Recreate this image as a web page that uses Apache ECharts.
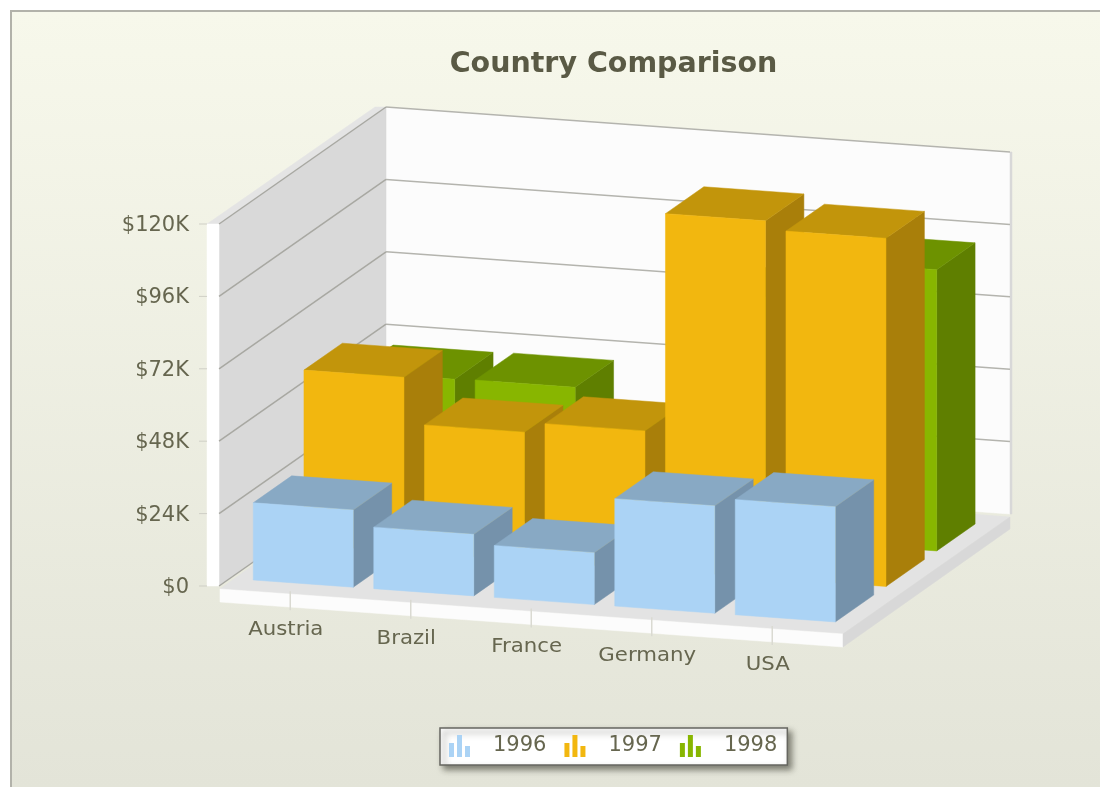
<!DOCTYPE html>
<html>
<head>
<meta charset="utf-8">
<style>html,body{margin:0;padding:0;background:#fff}#c{width:1100px;height:787px}</style>
<script src="https://cdn.jsdelivr.net/npm/echarts@6/dist/echarts.min.js"></script>
</head>
<body>
<div id="c"></div>
<script>
const categories = ['Austria', 'Brazil', 'France', 'Germany', 'USA'];
const years = ['1996', '1997', '1998'];
const values1996 = [25600, 20400, 17200, 35600, 38200];
const values1997 = [57800, 42500, 45800, 118300, 115400];
const values1998 = [45400, 45600, 30000, 80000, 93200];
const yTicks = [0, 24000, 48000, 72000, 96000, 120000];

const faces = [
  { front: '#ABD3F5', top: '#88A9C4', side: '#7592AB' },
  { front: '#F2B70F', top: '#C2950B', side: '#A97F0A' },
  { front: '#88B600', top: '#6D9200', side: '#5F7F00' }
];
const TEXT = '#66664f';
const FONT = '"DejaVu Sans", Verdana, sans-serif';

// oblique projection of (category position, value, depth 0..1) on the cartesian grid
const SLOPE = 0.0721, ORIGIN_X = 219, DEPTH_X = 167, DEPTH_Y = 117;
const LEFT = -0.591, RIGHT = 4.587;
const ROW_START = 0.0657, ROW_STEP = 0.3036, BAR_DEPTH = 0.23, BAR_HALF = 0.415, BAR_SHIFT = 0.017;

function projector(api) {
  const x0 = api.coord([0, 0])[0];
  const step = api.coord([1, 0])[0] - x0;
  return function (c, v, d) {
    const X = x0 + c * step;
    const y = api.coord([0, v])[1];
    return [X + d * DEPTH_X, y + (X - ORIGIN_X) * SLOPE - d * DEPTH_Y];
  };
}
function poly(points, fill) {
  return { type: 'polygon', shape: { points: points }, style: { fill: fill, stroke: fill, lineWidth: 0.5 } };
}
function seg(a, b, stroke, w) {
  return { type: 'line', shape: { x1: a[0], y1: a[1], x2: b[0], y2: b[1] }, style: { stroke: stroke, lineWidth: w } };
}
function shift(p, dx, dy) { return [p[0] + dx, p[1] + dy]; }

function renderFrame(params, api) {
  const p = projector(api);
  const top = yTicks[yTicks.length - 1];
  const ch = [];
  const fl = p(LEFT, 0, 0), fr = p(RIGHT, 0, 0), bl = p(LEFT, 0, 1), br = p(RIGHT, 0, 1);
  const tfl = p(LEFT, top, 0), tbl = p(LEFT, top, 1), tbr = p(RIGHT, top, 1);
  // back wall
  ch.push(poly([bl, br, tbr, tbl], '#FCFCFC'));
  ch.push(poly([br, shift(br, 2, 0), shift(tbr, 2, 0), tbr], '#D8D8D8'));
  // left wall and its edges
  ch.push(poly([fl, bl, tbl, tfl], '#D9D9D9'));
  ch.push(poly([tfl, tbl, shift(tbl, -11, 0), shift(tfl, -12, 0)], '#E4E4E4'));
  ch.push(poly([tfl, fl, shift(fl, -12, 0), shift(tfl, -12, 0)], '#FFFFFF'));
  // floor slab
  ch.push(poly([shift(fl, 1, 3), shift(fr, 0, 3), shift(br, 0, 3), bl], '#E3E3E3'));
  ch.push(poly([shift(fl, 1, 3), shift(fr, 0, 3), shift(fr, 0, 16), shift(fl, 1, 16)], '#FCFCFC'));
  ch.push(poly([shift(fr, 0, 3), shift(br, 0, 3), shift(br, 0, 15), shift(fr, 0, 16)], '#D8D8D8'));
  // gridlines and value ticks
  yTicks.forEach(function (t) {
    const a = p(LEFT, t, 0), b = p(LEFT, t, 1), c = p(RIGHT, t, 1);
    if (t > 0) ch.push(seg(b, c, '#B4B4AE', 1.5));
    ch.push(seg(a, b, '#A8A8A2', 1.5));
    ch.push(seg(shift(a, -20, 0), shift(a, -12, 0), '#CFCFC6', 1));
  });
  return { type: 'group', children: ch };
}

function renderBar(params, api) {
  const p = projector(api);
  const i = api.value(0), v = api.value(1);
  const row = params.seriesIndex;
  const f = faces[row];
  const c = i + BAR_SHIFT;
  const d0 = ROW_START + row * ROW_STEP, d1 = d0 + BAR_DEPTH;
  const a = c - BAR_HALF, b = c + BAR_HALF;
  return {
    type: 'group',
    children: [
      poly([p(b, 0, d0), p(b, 0, d1), p(b, v, d1), p(b, v, d0)], f.side),
      poly([p(a, v, d0), p(b, v, d0), p(b, v, d1), p(a, v, d1)], f.top),
      poly([p(a, 0, d0), p(b, 0, d0), p(b, v, d0), p(a, v, d0)], f.front)
    ]
  };
}

function renderCategory(params, api) {
  const p = projector(api);
  const i = api.value(0);
  const t = p(i, 0, 0);
  return {
    type: 'group',
    children: [
      seg(t, shift(t, 0, 19), '#DADAD2', 1.5),
      {
        type: 'text', x: t[0] - 4.5, y: t[1] + 39, scaleX: 1.12,
        style: { text: categories[i], font: '19px ' + FONT, fill: TEXT, align: 'center', verticalAlign: 'middle' }
      }
    ]
  };
}

function yearSeries(name, values, idx, z) {
  return {
    type: 'custom', name: name, z: z, silent: true, renderItem: renderBar,
    coordinateSystem: 'cartesian2d', encode: { x: 0, y: 1 },
    itemStyle: { color: faces[idx].front },
    data: values.map(function (v, i) { return [i, v]; })
  };
}

const chart = echarts.init(document.getElementById('c'));
chart.setOption({
  animation: false,
  backgroundColor: 'transparent',
  title: {
    text: 'Country Comparison', left: 608.5, top: 45, textAlign: 'center',
    textStyle: { fontFamily: FONT, fontSize: 28.5, fontWeight: 'bold', color: '#5A5A45' }
  },
  graphic: [{
    type: 'group', z: -10, silent: true,
    children: [
      { type: 'rect', z: -10, shape: { x: 10, y: 10, width: 1090, height: 777 }, style: { fill: '#B2B2AA' } },
      {
        type: 'rect', z: -9, shape: { x: 12, y: 12, width: 1088, height: 775 },
        style: {
          fill: {
            type: 'linear', x: 0, y: 0, x2: 0, y2: 1,
            colorStops: [{ offset: 0, color: '#F7F8EB' }, { offset: 1, color: '#E3E4D8' }]
          }
        }
      }
    ]
  }],
  grid: { left: 230, width: 602.5, top: 224, height: 362 },
  xAxis: {
    type: 'category', data: categories,
    axisLine: { show: false }, axisTick: { show: false }, axisLabel: { show: false }, splitLine: { show: false }
  },
  yAxis: {
    type: 'value', min: 0, max: 120000, interval: 24000,
    axisLine: { show: false }, axisTick: { show: false }, splitLine: { show: false },
    axisLabel: {
      margin: 41, fontFamily: FONT, fontSize: 21, color: TEXT, verticalAlign: 'top', lineHeight: 3,
      formatter: function (v) { return v === 0 ? '$0' : '$' + v / 1000 + 'K'; }
    }
  },
  legend: {
    data: years, left: 440, top: 728, orient: 'horizontal', selectedMode: false,
    padding: [7, 10, 8, 9], itemWidth: 21, itemHeight: 22, itemGap: 18,
    backgroundColor: '#FFFFFF', borderColor: '#666660', borderWidth: 1.5,
    shadowColor: 'rgba(40,40,30,0.55)', shadowBlur: 6, shadowOffsetX: 4, shadowOffsetY: 4,
    icon: 'path://M0 8H5V22H0Z M8 0H13V22H8Z M16 11H21V22H16Z',
    textStyle: { fontFamily: FONT, fontSize: 21, color: TEXT, padding: [0, 0, 0, 18] }
  },
  series: [
    yearSeries(years[0], values1996, 0, 6),
    yearSeries(years[1], values1997, 1, 5),
    yearSeries(years[2], values1998, 2, 4),
    {
      type: 'custom', name: 'frame', z: 2, silent: true, renderItem: renderFrame,
      coordinateSystem: 'cartesian2d', encode: { x: 0, y: 1 }, data: [[0, 0]]
    },
    {
      type: 'custom', name: 'categories', z: 3, silent: true, renderItem: renderCategory,
      coordinateSystem: 'cartesian2d', encode: { x: 0, y: 1 },
      data: categories.map(function (c, i) { return [i, 0]; })
    }
  ]
});
</script>
</body>
</html>
